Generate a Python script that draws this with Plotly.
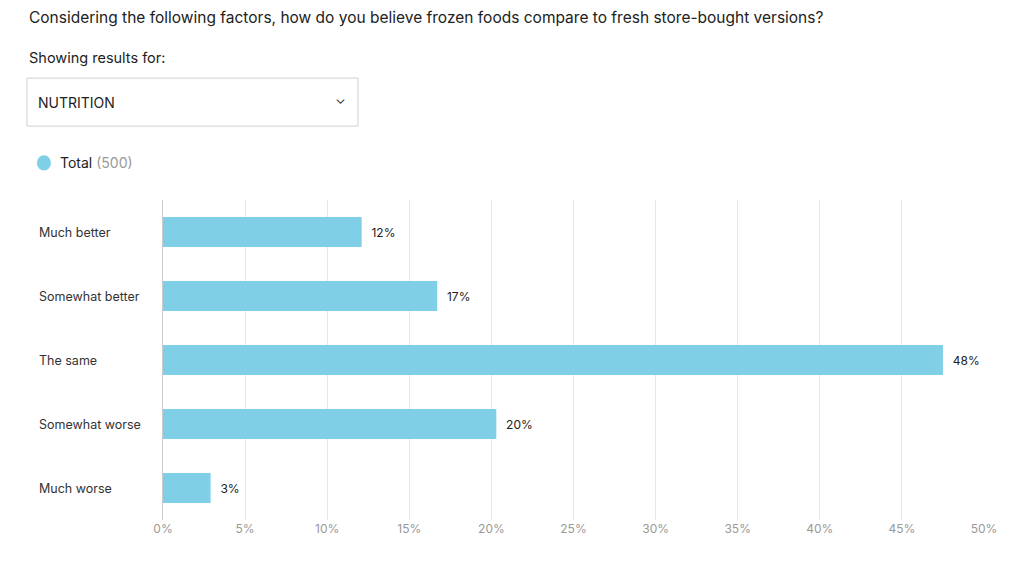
import plotly.graph_objects as go

categories = ["Much better", "Somewhat better", "The same", "Somewhat worse", "Much worse"]
values = [12.1, 16.7, 47.5, 20.3, 2.9]
labels = ["12%", "17%", "48%", "20%", "3%"]
tick_vals = [0, 5, 10, 15, 20, 25, 30, 35, 40, 45, 50]
tick_text = [f"{v}%" for v in tick_vals]

BAR = "#7fcfe6"
FONT = "Inter, Roboto, sans-serif"

fig = go.Figure()
fig.add_trace(go.Bar(
    y=categories, x=values, orientation="h",
    marker=dict(color=BAR, line=dict(width=0)),
    text=["  " + t for t in labels], textposition="outside", cliponaxis=False,
    textfont=dict(size=12, color="#222", family=FONT),
    hoverinfo="skip",
))

ann = [
    dict(text="Considering the following factors, how do you believe frozen foods compare to fresh store-bought versions?",
         x=-0.1657, y=1.569, xanchor="left", yanchor="middle", font=dict(size=15.5, color="#222")),
    dict(text="Showing results for:", x=-0.1657, y=1.444, xanchor="left", yanchor="middle",
         font=dict(size=14.5, color="#222")),
    dict(text="NUTRITION", x=-0.155, y=1.306, xanchor="left", yanchor="middle",
         font=dict(size=14, color="#222")),
    dict(text="⌄", x=0.216, y=1.318, xanchor="center", yanchor="middle",
         font=dict(size=14, color="#444")),
    dict(text="Total <span style='color:#999'>(500)</span>", x=-0.128, y=1.116, xanchor="left",
         yanchor="middle", font=dict(size=14, color="#222")),
]
for c in categories:
    ann.append(dict(text=c, x=-0.154, y=c, yref="y", xanchor="left", yanchor="middle",
                    font=dict(size=12.5, color="#333")))
for a in ann:
    a.setdefault("xref", "paper")
    a.setdefault("yref", "paper")
    a["showarrow"] = False

fig.update_layout(
    width=1024, height=581,
    margin=dict(l=155, r=48, t=192, b=69),
    paper_bgcolor="white", plot_bgcolor="white",
    font=dict(family=FONT, color="#333"),
    showlegend=False, bargap=0.53,
    annotations=ann,
    shapes=[
        dict(type="rect", xref="paper", yref="paper", x0=-0.1657, x1=0.2375, y0=1.231, y1=1.381,
             line=dict(color="#cfcfcf", width=1), fillcolor="white", layer="below"),
        dict(type="circle", xref="paper", yref="paper", x0=-0.1535, x1=-0.1365, y0=1.092, y1=1.14,
             line=dict(width=0), fillcolor=BAR),
    ],
    xaxis=dict(range=[0, 50], tickvals=tick_vals, ticktext=tick_text, showgrid=True,
               gridcolor="#e6e6e6", zeroline=False, showline=False,
               tickfont=dict(size=12, color="#999"), ticks="", fixedrange=True),
    yaxis=dict(autorange="reversed", showticklabels=False, showline=True, linecolor="#cccccc",
               linewidth=1, ticks="", fixedrange=True),
)
fig.write_html("out.html")
